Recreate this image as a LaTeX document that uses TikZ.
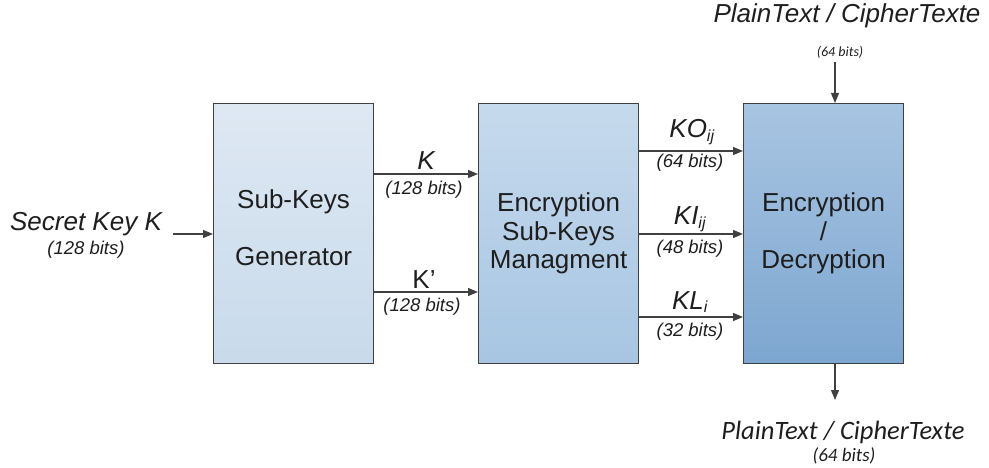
\documentclass[tikz,border=0pt]{standalone}
\usepackage{fontspec}
\setmainfont{Liberation Sans}
\newfontfamily\calib{Carlito}
\usetikzlibrary{arrows.meta}
\definecolor{linegray}{HTML}{404040}
\definecolor{txt}{HTML}{1E1E1E}
\tikzset{
  blk/.style={draw=linegray, line width=1.2pt, minimum width=160pt, minimum height=260pt, inner sep=0pt, anchor=north west, shading=axis, shading angle=0},
  btxt/.style={text=txt, align=center, inner sep=0pt},
  arr/.style={draw=linegray, line width=1.2pt, -{Triangle[length=10pt,width=8pt]}},
  lbl/.style={text=txt, font=\fontsize{26}{28}\selectfont\itshape, inner sep=0pt},
  bits/.style={text=txt, font=\fontsize{18.5}{20}\selectfont\itshape, inner sep=0pt},
  cbits/.style={text=txt, font=\calib\fontsize{14}{16}\selectfont\itshape, inner sep=0pt}
}
\newcommand{\subsc}[1]{\textsubscript{\fontsize{16}{16}\selectfont #1}}
\begin{document}
\begin{tikzpicture}[x=1pt,y=-1pt]
\useasboundingbox (0,0) rectangle (989,468);
\node[blk, top color={rgb,255:red,222;green,232;blue,243}, bottom color={rgb,255:red,200;green,218;blue,235}] (gen) at (213,103) {};
\node[btxt, font=\fontsize{26}{57}\selectfont] (gentxt) at ([yshift=6pt]gen.center) {Sub-Keys\\Generator};
\node[blk, top color={rgb,255:red,198;green,218;blue,237}, bottom color={rgb,255:red,167;green,197;blue,226}] (mgmt) at (478,103) {};
\node[btxt, font=\fontsize{26}{28.5}\selectfont] (mgmttxt) at (mgmt.center) {Encryption\\Sub-Keys\\Managment};
\node[blk, top color={rgb,255:red,168;green,197;blue,226}, bottom color={rgb,255:red,125;green,166;blue,208}] (enc) at (743,103) {};
\node[btxt, font=\fontsize{26}{28.5}\selectfont] (enctxt) at (enc.center) {Encryption\\/\\Decryption};
% inputs
\node[lbl] (sk) at (86,224) {Secret Key K};
\node[bits] (skb) at (86,250) {(128 bits)};
\coordinate (skstart) at (173,234);
\draw[arr] (skstart) -- (gen.west |- skstart);
% K, K'
\coordinate (k1) at (373,174);
\draw[arr] (k1) -- (mgmt.west |- k1);
\node[lbl] (kl) at (426,161) {K};
\node[bits] (klb) at (424,190) {(128 bits)};
\coordinate (k2) at (373,292);
\draw[arr] (k2) -- (mgmt.west |- k2);
\node[text=txt, font=\fontsize{26}{28}\selectfont, inner sep=0pt] (kpl) at (424,280) {K’};
\node[bits] (kplb) at (422,307) {(128 bits)};
% KO, KI, KL
\coordinate (o1) at (638,151);
\draw[arr] (o1) -- (enc.west |- o1);
\node[lbl] (kol) at (692,132) {KO\subsc{ij}};
\node[bits] (kob) at (690,163) {(64 bits)};
\coordinate (o2) at (638,234);
\draw[arr] (o2) -- (enc.west |- o2);
\node[lbl] (kil) at (690,219) {KI\subsc{ij}};
\node[bits] (kib) at (690,249) {(48 bits)};
\coordinate (o3) at (638,317);
\draw[arr] (o3) -- (enc.west |- o3);
\node[lbl] (kll) at (690,302) {KL\subsc{i}};
\node[bits] (klbits) at (690,332) {(32 bits)};
% plaintext
\node[lbl] (pt1) at (847,16) {PlainText / CipherTexte};
\node[cbits] (pt1b) at (840,52) {(64 bits)};
\coordinate (ptin) at (835,62);
\draw[arr] (ptin) -- (enc.north -| ptin);
\coordinate (ptout) at (835,400);
\draw[arr] (enc.south -| ptout) -- (ptout);
\node[text=txt, font=\calib\fontsize{26.5}{28}\selectfont\itshape, inner sep=0pt] (pt2) at (843,432) {PlainText / CipherTexte};
\node[text=txt, font=\calib\fontsize{19}{20}\selectfont\itshape, inner sep=0pt] (pt2b) at (844,456) {(64 bits)};
\end{tikzpicture}
\end{document}
